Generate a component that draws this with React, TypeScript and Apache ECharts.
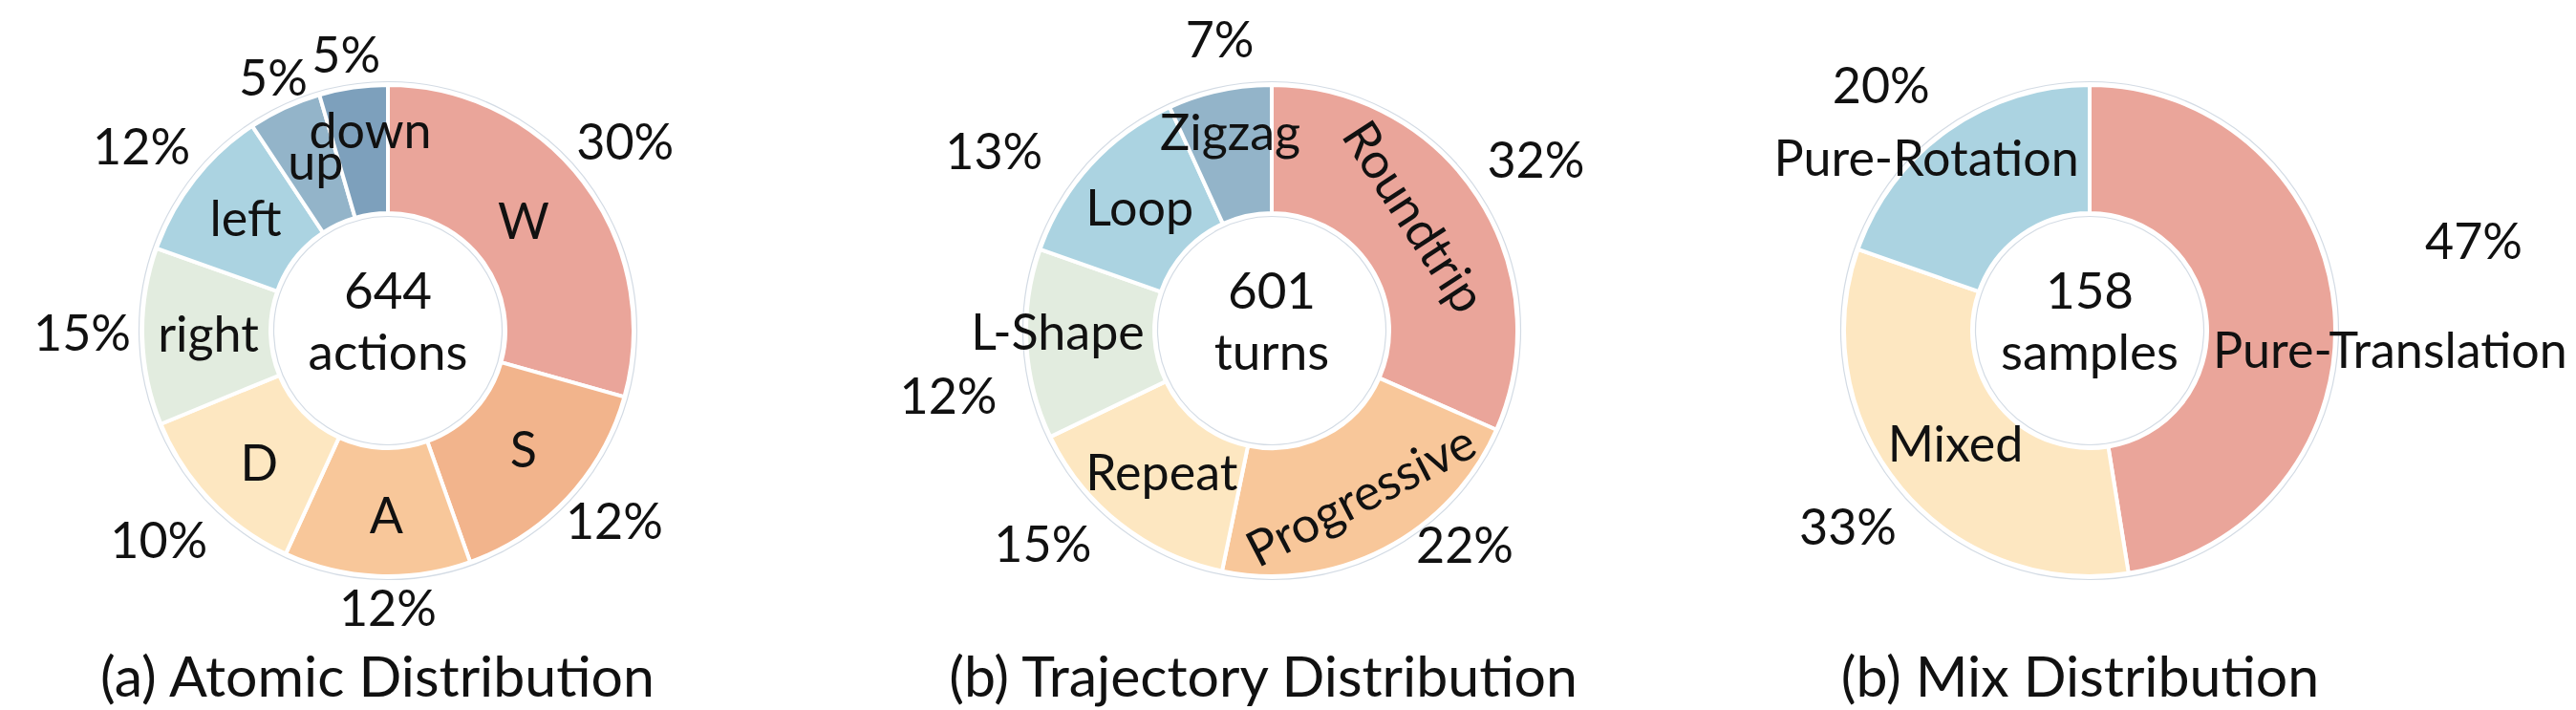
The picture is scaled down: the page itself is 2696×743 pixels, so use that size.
import React, { useEffect, useRef } from "react";
import * as echarts from "echarts";

// ---------- data ----------
const atomicNames = ["W", "S", "A", "D", "right", "left", "up", "down"];
const atomicCounts = [189, 98, 79, 77, 75, 66, 31, 29];
const atomicPct = ["30%", "12%", "12%", "10%", "15%", "12%", "5%", "5%"];

const trajNames = ["Roundtrip", "Progressive", "Repeat", "L-Shape", "Loop", "Zigzag"];
const trajCounts = [190, 130, 88, 75, 77, 41];
const trajPct = ["32%", "22%", "15%", "12%", "13%", "7%"];

const mixNames = ["Pure-Translation", "Mixed", "Pure-Rotation"];
const mixCounts = [75, 52, 31];
const mixPct = ["47%", "33%", "20%"];

const centerTexts = ["644\nactions", "601\nturns", "158\nsamples"];
const captions = ["(a) Atomic Distribution", "(b) Trajectory Distribution", "(b) Mix Distribution"];

// ---------- style ----------
const FONT = "Lato";
const TEXT = "#111111";
const LABEL_SIZE = 52;
const atomicColors = ["#EAA59A", "#F2B48C", "#F8C79A", "#FDE7C1", "#E2ECDF", "#ABD3E1", "#93B4C9", "#7DA0BC"];
const trajColors = ["#EAA59A", "#F8C79A", "#FDE7C1", "#E2ECDF", "#ABD3E1", "#93B4C9"];
const mixColors = ["#EAA59A", "#FDE7C1", "#ABD3E1"];

const CY = 346;
const R0 = 123;
const R1 = 257;

const panels = [
  {
    cx: 406, capX: 395, names: atomicNames, counts: atomicCounts, pct: atomicPct, colors: atomicColors,
    nameDist: [183, 188, 192, 192, 188, 191, 193, 212],
    nameNudge: [-2, -2, -2, -1.5, 0.8, 0.7, 1.8, 3.1],
    pctDist: [318, 309, 289, 324, 320, 323, 292, 293],
    pctNudge: [-1.5, -3.1, -2.5, 1.6, 1.2, -1, 0.6, -0.5],
    tangential: [] as number[],
  },
  {
    cx: 1331, capX: 1322, names: trajNames, counts: trajCounts, pct: trajPct, colors: trajColors,
    nameDist: [177, 196, 187, 224, 190, 213],
    nameNudge: [-2.9, -0.8, 0, 3.1, 0.9, 0.5],
    pctDist: [330, 301, 327, 345, 347, 311],
    pctNudge: [0, -14.9, 9.1, -8, -9.3, 2.2],
    tangential: [0, 1],
  },
  {
    cx: 2187, capX: 2177, names: mixNames, counts: mixCounts, pct: mixPct, colors: mixColors,
    nameDist: [315, 183, 250],
    nameNudge: [8.1, 0, -7.8],
    pctDist: [413, 325, 338],
    pctNudge: [-8.7, 1, -4.9],
    tangential: [] as number[],
  },
];

function makeLayout(cx: number, cy: number, dists: number[], nudges: number[]) {
  return (p: any) => {
    const r = p.labelRect;
    const lx = r.x + r.width / 2;
    const ly = r.y + r.height / 2;
    const a = Math.atan2(ly - cy, lx - cx) + ((nudges[p.dataIndex] || 0) * Math.PI) / 180;
    const d = dists[p.dataIndex];
    return { dx: cx + d * Math.cos(a) - lx, dy: cy + d * Math.sin(a) - ly };
  };
}

function buildOption() {
  const series: any[] = [];
  const graphics: any[] = [];
  panels.forEach((pn, i) => {
    series.push({
      type: "pie",
      silent: true,
      center: [pn.cx, CY],
      radius: [R0 - 3.5, R1 + 3.5],
      startAngle: 90,
      label: { show: false },
      labelLine: { show: false },
      emphasis: { disabled: true },
      itemStyle: { color: "rgba(0,0,0,0)", borderColor: "#d3dbe4", borderWidth: 1.2 },
      data: [{ value: 1, name: "outline" }],
      z: 1,
    });
    series.push({
      type: "pie",
      silent: true,
      center: [pn.cx, CY],
      radius: [R0, R1],
      startAngle: 90,
      clockwise: true,
      avoidLabelOverlap: false,
      emphasis: { disabled: true },
      itemStyle: { borderColor: "#ffffff", borderWidth: 4 },
      label: {
        show: true,
        position: "inside",
        formatter: "{b}",
        fontFamily: FONT,
        fontSize: LABEL_SIZE,
        color: TEXT,
        textBorderWidth: 0,
      },
      labelLine: { show: false },
      labelLayout: makeLayout(pn.cx, CY, pn.nameDist, pn.nameNudge),
      data: pn.names.map((n, k) => ({
        name: n,
        value: pn.counts[k],
        itemStyle: { color: pn.colors[k] },
        label: pn.tangential.includes(k) ? { rotate: "tangential" } : {},
      })),
      z: 2,
    });
    series.push({
      type: "pie",
      silent: true,
      center: [pn.cx, CY],
      radius: [R0, R1],
      startAngle: 90,
      clockwise: true,
      avoidLabelOverlap: false,
      emphasis: { disabled: true },
      itemStyle: { color: "rgba(0,0,0,0)", borderWidth: 0 },
      label: {
        show: true,
        position: "inside",
        formatter: (p: any) => pn.pct[p.dataIndex],
        fontFamily: FONT,
        fontSize: LABEL_SIZE,
        color: TEXT,
        textBorderWidth: 0,
      },
      labelLine: { show: false },
      labelLayout: makeLayout(pn.cx, CY, pn.pctDist, pn.pctNudge),
      data: pn.names.map((n, k) => ({ name: n + "_pct", value: pn.counts[k] })),
      z: 3,
    });
    graphics.push({
      type: "text",
      x: pn.cx,
      y: 334,
      z: 10,
      style: {
        text: centerTexts[i],
        fontFamily: FONT,
        fontSize: 53,
        lineHeight: 64,
        fill: TEXT,
        align: "center",
        verticalAlign: "middle",
      },
    });
    graphics.push({
      type: "text",
      x: pn.capX,
      y: 706,
      z: 10,
      style: {
        text: captions[i],
        fontFamily: FONT,
        fontSize: 59,
        fill: TEXT,
        align: "center",
        verticalAlign: "middle",
      },
    });
  });
  return {
    animation: false,
    backgroundColor: "#ffffff",
    series,
    graphic: graphics,
  };
}

export default function App() {
  const ref = useRef<HTMLDivElement>(null);
  useEffect(() => {
    if (!ref.current) return;
    const chart = echarts.init(ref.current, null, { renderer: "svg" });
    chart.setOption(buildOption() as any);
    return () => chart.dispose();
  }, []);
  return (
    <div
      ref={ref}
      style={{ position: "fixed", left: 0, top: 0, width: 2696, height: 743, background: "#fff" }}
    />
  );
}
